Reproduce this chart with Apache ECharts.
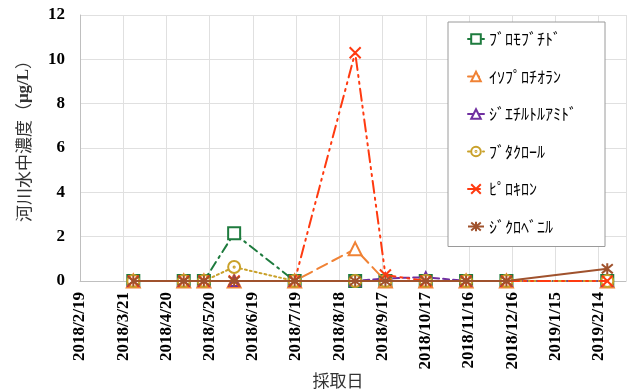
<!DOCTYPE html>
<html>
<head>
<meta charset="utf-8">
<script src="https://cdn.jsdelivr.net/npm/echarts@6/dist/echarts.min.js"></script>
<style>
  html, body { margin: 0; padding: 0; background: #ffffff; }
  #chart { width: 629px; height: 392px; }
</style>
</head>
<body>
<div id="chart"></div>
<script>
// Sampling dates and measured concentrations (µg/L) per compound
const sampleDates = ['2018/3/28', '2018/5/2', '2018/5/16', '2018/6/6', '2018/7/18', '2018/8/29',
                     '2018/9/19', '2018/10/17', '2018/11/14', '2018/12/12', '2019/2/20'];
const bromobutide    = [0, 0, 0, 2.15, 0, 0,    0,    0,    0, 0, 0];
const isoprothiolane = [0, 0, 0, 0,    0, 1.45, 0,    0,    0, 0, 0];
const deet           = [0, 0, 0, 0,    0, 0,    0.12, 0.17, 0, 0, 0];
const butachlor      = [0, 0, 0, 0.63, 0, 0,    0,    0,    0, 0, 0];
const pyroquilon     = [0, 0, 0, 0,    0, 10.3, 0.27, 0,    0, 0, 0];
const dichlobenil    = [0, 0, 0, 0,    0, 0,    0,    0,    0, 0, 0.55];

const seriesNames = ['ﾌﾞﾛﾓﾌﾞﾁﾄﾞ', 'ｲｿﾌﾟﾛﾁｵﾗﾝ', 'ｼﾞｴﾁﾙﾄﾙｱﾐﾄﾞ', 'ﾌﾞﾀｸﾛｰﾙ', 'ﾋﾟﾛｷﾛﾝ', 'ｼﾞｸﾛﾍﾞﾆﾙ'];

// Date axis range and tick step (days)
const axisStartDate = '2018/2/19';
const axisEndDate = '2019/3/5';
const tickStepDays = 30;
const yMin = 0, yMax = 12, yStep = 2;

const DAY = 86400000;
function toUTC(s) {
  const p = s.split('/').map(Number);
  return Date.UTC(p[0], p[1] - 1, p[2]);
}
const base = toUTC(axisStartDate);
function dayOffset(s) { return Math.round((toUTC(s) - base) / DAY); }
function fmtDay(v) {
  const d = new Date(base + v * DAY);
  return d.getUTCFullYear() + '/' + (d.getUTCMonth() + 1) + '/' + d.getUTCDate();
}
function pairs(vals) { return sampleDates.map((s, i) => [dayOffset(s), vals[i]]); }

// Outline marker shapes (stroked, white-filled)
const crossPath = 'emptyPath://M0,0L10,10M10,0L0,10';
const starPath = 'emptyPath://M0,0L10,10M10,0L0,10M5,-1L5,11';
const dotRingPath = 'emptyPath://M10,0A10,10,0,1,1,10,20A10,10,0,1,1,10,0Z' +
                    'M10,9A1,1,0,1,1,10,11A1,1,0,1,1,10,9Z';

const styles = [
  { values: bromobutide,    color: '#1e7b3e', dash: [9, 5, 2, 5],        symbol: 'emptyRect',     size: 12 },
  { values: isoprothiolane, color: '#f08235', dash: [11, 6],             symbol: 'emptyTriangle', size: 13 },
  { values: deet,           color: '#7030a0', dash: [6, 4],              symbol: 'emptyTriangle', size: 10 },
  { values: butachlor,      color: '#c9a12a', dash: [2, 3],              symbol: dotRingPath,     size: 12 },
  { values: pyroquilon,     color: '#ff3a10', dash: [12, 5, 2, 5, 2, 5], symbol: crossPath,       size: 11 },
  { values: dichlobenil,    color: '#a0522d', dash: 'solid',             symbol: starPath,        size: 11 }
];

const chart = echarts.init(document.getElementById('chart'), null, { renderer: 'canvas' });

chart.setOption({
  animation: false,
  backgroundColor: '#ffffff',
  grid: { left: 80, right: 3, top: 15, bottom: 111, containLabel: false, outerBoundsMode: 'none' },
  legend: {
    orient: 'vertical',
    left: 448,
    top: 22,
    padding: [9, 28, 12, 19],
    itemGap: 21.5,
    itemWidth: 16,
    itemHeight: 12,
    backgroundColor: '#ffffff',
    borderColor: '#9a9a9a',
    borderWidth: 1,
    textStyle: { fontFamily: 'Noto Sans CJK JP', fontSize: 16, color: '#000000', lineHeight: 16 },
    data: seriesNames
  },
  xAxis: {
    type: 'value',
    min: 0,
    max: dayOffset(axisEndDate),
    interval: tickStepDays,
    name: '採取日',
    nameLocation: 'middle',
    nameGap: 91,
    nameMoveOverlap: false,
    nameTextStyle: { fontFamily: 'Noto Sans CJK JP', fontSize: 17, color: '#333333', padding: [0, 30, 0, 0] },
    axisLine: { show: true, onZero: false, lineStyle: { color: '#bfbfbf', width: 1 } },
    axisTick: { show: false },
    axisLabel: {
      rotate: 90,
      margin: 11,
      showMaxLabel: false,
      fontFamily: 'Liberation Serif',
      fontWeight: 'bold',
      fontSize: 17,
      color: '#000000',
      formatter: v => (v % tickStepDays === 0 ? fmtDay(v) : '')
    },
    splitLine: { show: true, lineStyle: { color: '#e0e0e0', width: 1 } }
  },
  yAxis: {
    type: 'value',
    min: yMin,
    max: yMax,
    interval: yStep,
    name: '{j|河川水中濃度（}{u|μg/L}{j|）}',
    nameLocation: 'middle',
    nameGap: 48,
    nameMoveOverlap: false,
    nameTextStyle: {
      padding: [0, 0, 0, 22],
      rich: {
        j: { fontFamily: 'Noto Sans CJK JP', fontSize: 17, color: '#333333' },
        u: { fontFamily: 'Liberation Serif', fontWeight: 'bold', fontSize: 17, color: '#333333' }
      }
    },
    axisLine: { show: true, lineStyle: { color: '#bfbfbf', width: 1 } },
    axisTick: { show: false },
    axisLabel: {
      margin: 15,
      fontFamily: 'Liberation Serif',
      fontWeight: 'bold',
      fontSize: 17,
      color: '#000000'
    },
    splitLine: { show: true, lineStyle: { color: '#e0e0e0', width: 1 } }
  },
  series: styles.map((s, i) => ({
    name: seriesNames[i],
    type: 'line',
    data: pairs(s.values),
    symbol: s.symbol,
    symbolSize: s.size,
    showAllSymbol: true,
    lineStyle: { color: s.color, width: 2, type: s.dash, cap: s.dash === 'solid' ? 'butt' : 'round' },
    itemStyle: { color: s.color, borderColor: s.color, borderWidth: 1.5 },
    z: 2 + i
  }))
});
</script>
</body>
</html>
